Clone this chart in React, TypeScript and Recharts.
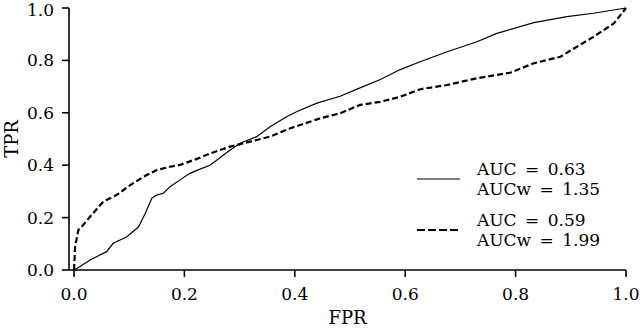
import React from 'react';
import { LineChart, Line, XAxis, YAxis, Legend } from 'recharts';

// ROC curve 1 (AUC = 0.63, AUCw = 1.35), solid
const fprA = [
  0, 0.011, 0.029, 0.059, 0.071, 0.096, 0.117, 0.129, 0.141, 0.15, 0.162, 0.174, 0.192, 0.21,
  0.225, 0.247, 0.283, 0.301, 0.331, 0.355, 0.386, 0.404, 0.44, 0.482, 0.518, 0.555, 0.591,
  0.627, 0.676, 0.73, 0.766, 0.833, 0.893, 0.941, 1.0,
];
const tprA = [
  0, 0.013, 0.038, 0.07, 0.102, 0.127, 0.165, 0.216, 0.274, 0.286, 0.293, 0.318, 0.344, 0.369,
  0.382, 0.401, 0.458, 0.484, 0.509, 0.547, 0.586, 0.605, 0.637, 0.663, 0.695, 0.727, 0.765,
  0.795, 0.833, 0.871, 0.903, 0.944, 0.967, 0.98, 1.0,
];

// ROC curve 2 (AUC = 0.59, AUCw = 1.99), dashed
const fprB = [
  0, 0.002, 0.008, 0.014, 0.029, 0.053, 0.077, 0.102, 0.126, 0.15, 0.174, 0.192, 0.225, 0.247,
  0.283, 0.319, 0.355, 0.392, 0.446, 0.482, 0.518, 0.555, 0.591, 0.627, 0.676, 0.73, 0.79,
  0.833, 0.881, 0.911, 0.941, 0.978, 1.0,
];
const tprB = [
  0, 0.089, 0.153, 0.165, 0.203, 0.261, 0.286, 0.324, 0.356, 0.382, 0.394, 0.401, 0.426, 0.445,
  0.471, 0.49, 0.509, 0.541, 0.579, 0.598, 0.63, 0.642, 0.661, 0.69, 0.706, 0.732, 0.753,
  0.789, 0.814, 0.852, 0.89, 0.941, 1.0,
];

const TICKS = [0, 0.2, 0.4, 0.6, 0.8, 1.0];
const LEGEND = [
  { lines: ['AUC = 0.63', 'AUCw = 1.35'], dash: undefined, width: 1.2 },
  { lines: ['AUC = 0.59', 'AUCw = 1.99'], dash: '8 3', width: 2.2 },
];

const FONT = 'DejaVu Serif';
const toPoints = (xs: number[], ys: number[]) => xs.map((x, i) => ({ fpr: x, tpr: ys[i] }));

const dataA = toPoints(fprA, tprA);
const dataB = toPoints(fprB, tprB);

const tickStyle = { fill: '#000', fontSize: 17, fontFamily: FONT };
const axisLine = { stroke: '#000', strokeWidth: 1.6 };

const renderLegend = () => (
  <div style={{ fontFamily: FONT, fontSize: 17, color: '#000' }}>
    {LEGEND.map((item, i) => (
      <div
        key={i}
        style={{ display: 'flex', alignItems: 'center', marginBottom: i === 0 ? 11 : 0 }}
      >
        <svg width={43} height={6} style={{ marginRight: 17 }}>
          <line
            x1={0}
            y1={3}
            x2={43}
            y2={3}
            stroke="#000"
            strokeWidth={item.width}
            strokeDasharray={item.dash}
          />
        </svg>
        <div style={{ lineHeight: '20px', wordSpacing: 3, whiteSpace: 'nowrap' }}>
          {item.lines.map((l) => (
            <div key={l}>{l}</div>
          ))}
        </div>
      </div>
    ))}
  </div>
);

export default function App() {
  return (
    <div style={{ position: 'absolute', left: 0, top: 0, width: 640, height: 329, background: '#fff' }}>
      <LineChart
        width={640}
        height={329}
        margin={{ top: 8, right: 14, bottom: 0, left: 0 }}
        style={{ fontFamily: FONT }}
      >
        <XAxis
          type="number"
          dataKey="fpr"
          domain={[0, 1]}
          ticks={TICKS}
          tickFormatter={(v: number) => v.toFixed(1)}
          allowDuplicatedCategory={false}
          padding={{ left: 5, right: 0 }}
          height={59}
          tickSize={7}
          tickMargin={11}
          tick={tickStyle}
          axisLine={axisLine}
          tickLine={axisLine}
          label={{
            value: 'FPR',
            position: 'insideBottom',
            offset: 5,
            fill: '#000',
            fontSize: 18,
            fontFamily: FONT,
          }}
        />
        <YAxis
          type="number"
          dataKey="tpr"
          domain={[0, 1]}
          ticks={TICKS}
          tickFormatter={(v: number) => v.toFixed(1)}
          width={69}
          tickSize={7}
          tickMargin={8}
          tick={tickStyle}
          axisLine={axisLine}
          tickLine={axisLine}
          label={{
            value: 'TPR',
            angle: -90,
            position: 'insideLeft',
            offset: 12,
            fill: '#000',
            fontSize: 18,
            fontFamily: FONT,
            style: { textAnchor: 'middle' },
          }}
        />
        <Legend
          layout="horizontal"
          verticalAlign="middle"
          align="center"
          content={renderLegend}
          wrapperStyle={{ left: 417, top: 159, width: 200, height: 90 }}
        />
        <Line
          data={dataA}
          dataKey="tpr"
          type="linear"
          stroke="#000"
          strokeWidth={1.2}
          dot={false}
          activeDot={false}
          isAnimationActive={false}
        />
        <Line
          data={dataB}
          dataKey="tpr"
          type="linear"
          stroke="#000"
          strokeWidth={2.2}
          strokeDasharray="6 3"
          dot={false}
          activeDot={false}
          isAnimationActive={false}
        />
      </LineChart>
    </div>
  );
}
